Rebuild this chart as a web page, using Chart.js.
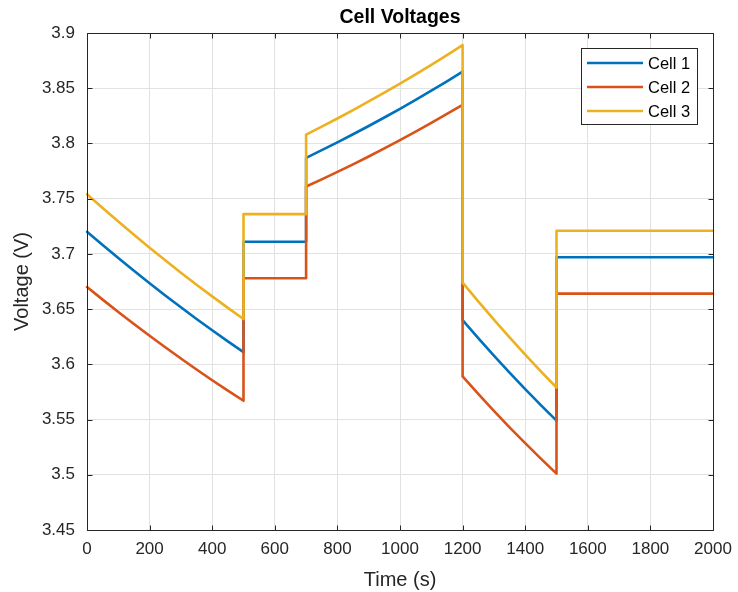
<!DOCTYPE html>
<html>
<head>
<meta charset="utf-8">
<script src="https://cdn.jsdelivr.net/npm/chart.js@4.4.1/dist/chart.umd.min.js"></script>
<style>
  html, body { margin: 0; padding: 0; background: #ffffff; }
  #wrap { width: 738px; height: 592px; }
</style>
</head>
<body>
<div id="wrap"><canvas id="c" width="738" height="592"></canvas></div>
<script>
// ---- data ----
const chartTitle = 'Cell Voltages';
const xTitle = 'Time (s)';
const yTitle = 'Voltage (V)';
const seriesNames = ['Cell 1', 'Cell 2', 'Cell 3'];
const seriesColors = ['#0072BD', '#D95319', '#EDB120'];

const times = [
  0, 50, 100, 150, 200, 250, 300, 350, 400, 450, 500,
  500, 700,
  700, 750, 800, 850, 900, 950, 1000, 1050, 1100, 1150, 1200,
  1200, 1250, 1300, 1350, 1400, 1450, 1500,
  1500, 2000
];
const cell1 = [
  3.7200, 3.7080, 3.6962, 3.6847, 3.6735, 3.6624, 3.6517, 3.6411, 3.6308, 3.6208, 3.6110,
  3.7110, 3.7110,
  3.7870, 3.7939, 3.8010, 3.8083, 3.8158, 3.8235, 3.8314, 3.8395, 3.8478, 3.8563, 3.8650,
  3.6400, 3.6237, 3.6079, 3.5925, 3.5776, 3.5631, 3.5490,
  3.6970, 3.6970
];
const cell2 = [
  3.6700, 3.6586, 3.6474, 3.6365, 3.6259, 3.6154, 3.6053, 3.5953, 3.5856, 3.5762, 3.5670,
  3.6780, 3.6780,
  3.7610, 3.7675, 3.7742, 3.7811, 3.7882, 3.7955, 3.8030, 3.8107, 3.8186, 3.8267, 3.8350,
  3.5890, 3.5732, 3.5579, 3.5430, 3.5286, 3.5146, 3.5010,
  3.6640, 3.6640
];
const cell3 = [
  3.7540, 3.7415, 3.7293, 3.7173, 3.7056, 3.6942, 3.6830, 3.6721, 3.6615, 3.6511, 3.6410,
  3.7360, 3.7360,
  3.8080, 3.8152, 3.8226, 3.8302, 3.8380, 3.8460, 3.8542, 3.8626, 3.8712, 3.8800, 3.8890,
  3.6740, 3.6570, 3.6405, 3.6244, 3.6088, 3.5936, 3.5790,
  3.7210, 3.7210
];

const xTickValues = [0, 200, 400, 600, 800, 1000, 1200, 1400, 1600, 1800, 2000];
const xTickLabels = ['0', '200', '400', '600', '800', '1000', '1200', '1400', '1600', '1800', '2000'];
const yTickValues = [3.45, 3.5, 3.55, 3.6, 3.65, 3.7, 3.75, 3.8, 3.85, 3.9];
const yTickLabels = ['3.45', '3.5', '3.55', '3.6', '3.65', '3.7', '3.75', '3.8', '3.85', '3.9'];

// ---- styling ----
const FONT = "'Liberation Sans', Arial, Helvetica, sans-serif";
const TEXT = '#262626';
const GRID = '#e2e2e2';

function toPoints(ys) { return times.map((t, i) => ({ x: t, y: ys[i] })); }
const allSeries = [cell1, cell2, cell3];

const datasets = allSeries.map((ys, i) => ({
  label: seriesNames[i],
  data: toPoints(ys),
  borderColor: seriesColors[i],
  backgroundColor: seriesColors[i],
  borderWidth: 2.6,
  pointRadius: 0,
  tension: 0,
  fill: false,
  borderJoinStyle: 'round',
  borderCapStyle: 'round',
  order: 2 - i,
  clip: false
}));

const boxPlugin = {
  id: 'matlabBox',
  afterDraw(chart) {
    const ctx = chart.ctx;
    const a = chart.chartArea;
    const xs = chart.scales.x, ysc = chart.scales.y;
    ctx.save();
    ctx.strokeStyle = TEXT;
    ctx.lineWidth = 1;
    const L = Math.round(a.left) + 0.5, R = Math.round(a.right) + 0.5;
    const T = Math.round(a.top) + 0.5, B = Math.round(a.bottom) + 0.5;
    ctx.beginPath();
    ctx.rect(L, T, R - L, B - T);
    const tl = 5;
    xTickValues.forEach(v => {
      const px = Math.round(xs.getPixelForValue(v)) + 0.5;
      ctx.moveTo(px, B); ctx.lineTo(px, B - tl);
      ctx.moveTo(px, T); ctx.lineTo(px, T + tl);
    });
    yTickValues.forEach(v => {
      const py = Math.round(ysc.getPixelForValue(v)) + 0.5;
      ctx.moveTo(L, py); ctx.lineTo(L + tl, py);
      ctx.moveTo(R, py); ctx.lineTo(R - tl, py);
    });
    ctx.stroke();

    // legend
    const bx = 581.5, by = 48.5, bw = 116, bh = 76;
    ctx.fillStyle = '#ffffff';
    ctx.fillRect(bx, by, bw, bh);
    ctx.strokeRect(bx, by, bw, bh);
    ctx.font = '16.5px ' + FONT;
    ctx.textBaseline = 'middle';
    ctx.textAlign = 'left';
    chart.data.datasets.forEach((ds, i) => {
      const ry = 63 + i * 24;
      ctx.strokeStyle = ds.borderColor;
      ctx.lineWidth = 2.6;
      ctx.beginPath();
      ctx.moveTo(587, ry); ctx.lineTo(643, ry);
      ctx.stroke();
      ctx.fillStyle = '#000000';
      ctx.fillText(ds.label, 648, ry + 1);
    });
    ctx.restore();
  }
};

new Chart(document.getElementById('c'), {
  type: 'line',
  data: { datasets },
  options: {
    responsive: false,
    animation: false,
    devicePixelRatio: 1,
    layout: { padding: { left: 0, right: 25, top: 0, bottom: 0 } },
    plugins: {
      legend: { display: false },
      tooltip: { enabled: false },
      title: {
        display: true,
        text: chartTitle,
        fullSize: false,
        color: '#000000',
        font: { family: FONT, size: 19.5, weight: 'bold', lineHeight: 1.2 },
        padding: { top: 6, bottom: 3.6 }
      }
    },
    scales: {
      x: {
        type: 'linear',
        min: 0, max: 2000,
        afterBuildTicks: s => { s.ticks = xTickValues.map(v => ({ value: v })); },
        afterFit: s => { s.height = 62; s.paddingLeft = 0; s.paddingRight = 0; },
        ticks: {
          autoSkip: false,
          maxRotation: 0,
          padding: 9,
          color: TEXT,
          font: { family: FONT, size: 17 },
          callback: (v) => { const i = xTickValues.indexOf(v); return i >= 0 ? xTickLabels[i] : ''; }
        },
        grid: { color: GRID, lineWidth: 1, drawTicks: false },
        border: { display: false },
        title: {
          display: true, text: xTitle, color: TEXT,
          font: { family: FONT, size: 20, lineHeight: 1.2 },
          padding: { top: 4, bottom: 0 }
        }
      },
      y: {
        type: 'linear',
        min: 3.45, max: 3.9,
        afterBuildTicks: s => { s.ticks = yTickValues.map(v => ({ value: v })); },
        afterFit: s => { s.width = 87; },
        ticks: {
          autoSkip: false,
          padding: 12,
          color: TEXT,
          font: { family: FONT, size: 17 },
          callback: (v) => { const i = yTickValues.findIndex(t => Math.abs(t - v) < 1e-9); return i >= 0 ? yTickLabels[i] : ''; }
        },
        grid: { color: GRID, lineWidth: 1, drawTicks: false },
        border: { display: false },
        title: {
          display: true, text: yTitle, color: TEXT,
          font: { family: FONT, size: 20, lineHeight: 1.2 },
          padding: { top: 10, bottom: 0 }
        }
      }
    }
  },
  plugins: [boxPlugin]
});
</script>
</body>
</html>
